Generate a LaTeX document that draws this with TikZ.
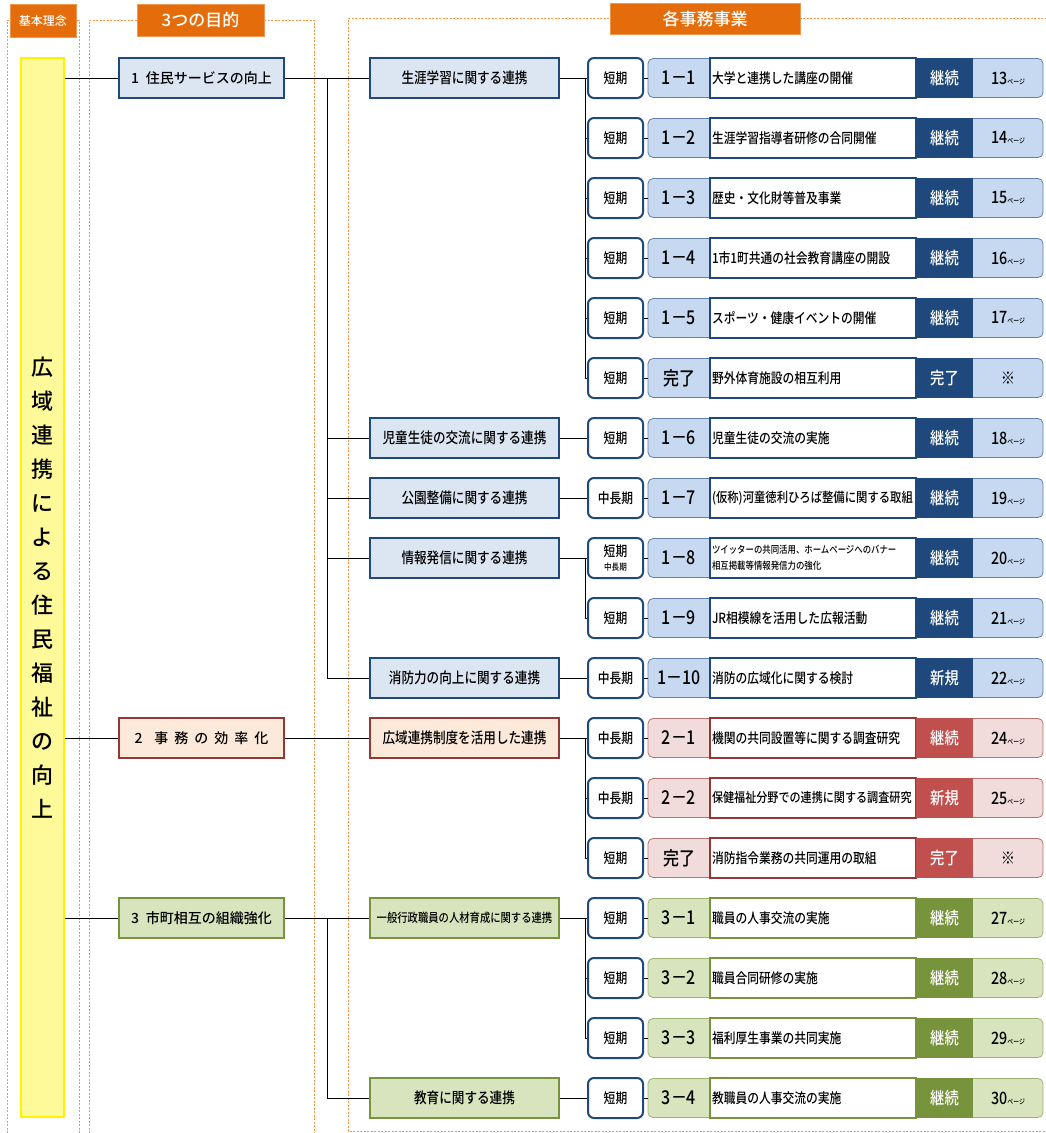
\documentclass[tikz,border=0pt]{standalone}
\usepackage{fontspec}
\setmainfont{Noto Sans CJK JP}[UprightFont=* Medium, FakeStretch=0.84]
\newfontfamily\jpw{Noto Sans CJK JP}[UprightFont=* Medium]

\definecolor{bdark}{HTML}{1F497D}
\definecolor{bstat}{HTML}{1F497D}
\definecolor{blight}{HTML}{C6D9F1}
\definecolor{bpale}{HTML}{DCE6F2}
\definecolor{rdark}{HTML}{953735}
\definecolor{rstat}{HTML}{C0504D}
\definecolor{rlight}{HTML}{F2DCDB}
\definecolor{rpale}{HTML}{FDE9D9}
\definecolor{gdark}{HTML}{77933C}
\definecolor{gstat}{HTML}{77933C}
\definecolor{glight}{HTML}{D7E4BD}
\definecolor{gpale}{HTML}{D7E4BD}
\definecolor{orng}{HTML}{E46C0A}
\definecolor{frame}{HTML}{F79646}

\tikzset{
  kakomi/.style={draw=frame, line width=1pt, dash pattern=on 2pt off 1.5pt},
  midashi/.style={fill=orng, draw=orng!70, text=white, inner sep=0pt},
  mokuteki/.style={draw=#1dark, fill=#1pale, line width=2.2pt, minimum width=165pt, minimum height=40pt, font=\jpw\fontsize{14}{14}\selectfont},
  renkei/.style={draw=#1dark, fill=#1pale, line width=2.2pt, minimum width=189pt, minimum height=40pt, font=\fontsize{15}{15}\selectfont},
  kikan/.style={draw=bdark, fill=white, line width=2pt, rounded corners=6pt, minimum width=55pt, minimum height=40pt, align=center, inner sep=1pt},
  waku/.style={draw=#1dark!70, fill=#1light, line width=0.8pt, rounded corners=5pt, minimum width=395pt, minimum height=39pt},
  naiyo/.style={draw=#1dark, fill=white, line width=2pt, text width=202pt, inner xsep=2pt, minimum height=40pt, align=left},
  jokyo/.style={fill=#1stat, text=white, minimum width=57pt, minimum height=40pt, font=\fontsize{17}{17}\selectfont},
}

% one row: name, y, period, number, text, status, page, colour
\newcommand{\jigyo}[8]{%
  \node[kikan] (k#1) at (615.5,#2) {#3};
  \node[waku=#8] (w#1) at (845.5,#2) {};
  \node (n#1) at (679,#2) {\fontsize{19}{19}\selectfont #4};
  \node[naiyo=#8] (d#1) at (813,#2) {#5};
  \node[jokyo=#8] (s#1) at (944.5,#2) {#6};
  \node (p#1) at (1008,#2) {#7};
  \draw[line width=0.8pt] (k#1) -- (w#1);
}
\newcommand{\peji}[1]{{\fontsize{17}{17}\selectfont #1}{\fontsize{7}{7}\selectfont ページ}}

\begin{document}
\begin{tikzpicture}[x=1pt, y=-1pt, font=\fontsize{14}{16}\selectfont]
\useasboundingbox (0,0) rectangle (1046,1133);

% frames
\draw[kakomi] (7,1140) -- (7,20) -- (79,20) -- (79,1140);
\draw[kakomi] (89,1140) -- (89,20) -- (314,20) -- (314,1140);
\draw[kakomi] (1050,18) -- (348,18) -- (348,1131) -- (1050,1131);
\node[midashi, minimum width=66pt, minimum height=33pt, font=\jpw\fontsize{12}{12}\selectfont] (kihonlabel) at (43,20.5) {基本理念};
\node[midashi, minimum width=127pt, minimum height=32pt, font=\jpw\fontsize{17}{17}\selectfont] (mokulabel) at (200.5,20) {3つの目的};
\node[midashi, minimum width=190pt, minimum height=31pt, font=\jpw\fontsize{17}{17}\selectfont] (jigyolabel) at (705,18.5) {各事務事業};

% basic idea
\node[draw=yellow, fill=yellow!40, line width=2.5pt, minimum width=43pt, minimum height=1059pt, inner sep=0pt, align=center, font=\jpw\fontsize{22}{34}\selectfont] (kihon) at (42.5,587.5) {広\\域\\連\\携\\に\\よ\\る\\住\\民\\福\\祉\\の\\向\\上};

% purposes
\node[mokuteki=b] (m1) at (201.5,78) {1\hspace{7pt}住民サービスの向上};
\node[mokuteki=r] (m2) at (201.5,738) {2\hspace{12pt}事\hspace{6pt}務\hspace{6pt}の\hspace{6pt}効\hspace{6pt}率\hspace{6pt}化};
\node[mokuteki=g] (m3) at (201.5,918) {3\hspace{7pt}市町相互の組織強化};

% fields
\node[renkei=b] (r1) at (464.5,78) {生涯学習に関する連携};
\node[renkei=b] (r2) at (464.5,438) {児童生徒の交流に関する連携};
\node[renkei=b] (r3) at (464.5,498) {公園整備に関する連携};
\node[renkei=b] (r4) at (464.5,558) {情報発信に関する連携};
\node[renkei=b] (r5) at (464.5,678) {消防力の向上に関する連携};
\node[renkei=r] (r6) at (464.5,738) {広域連携制度を活用した連携};
\node[renkei=g, font=\fontsize{12.3}{12.3}\selectfont, inner xsep=1pt] (r7) at (464.5,918) {一般行政職員の人材育成に関する連携};
\node[renkei=g] (r8) at (464.5,1098) {教育に関する連携};

% projects
\jigyo{0}{78}{短期}{1－1}{大学と連携した講座の開催}{継続}{\peji{13}}{b}
\jigyo{1}{138}{短期}{1－2}{生涯学習指導者研修の合同開催}{継続}{\peji{14}}{b}
\jigyo{2}{198}{短期}{1－3}{歴史・文化財等普及事業}{継続}{\peji{15}}{b}
\jigyo{3}{258}{短期}{1－4}{1市1町共通の社会教育講座の開設}{継続}{\peji{16}}{b}
\jigyo{4}{318}{短期}{1－5}{スポーツ・健康イベントの開催}{継続}{\peji{17}}{b}
\jigyo{5}{378}{短期}{完了}{野外体育施設の相互利用}{完了}{\fontsize{17}{17}\selectfont ※}{b}
\jigyo{6}{438}{短期}{1－6}{児童生徒の交流の実施}{継続}{\peji{18}}{b}
\jigyo{7}{498}{中長期}{1－7}{\fontsize{13.5}{16}\selectfont(仮称)河童徳利ひろば整備に関する取組}{継続}{\peji{19}}{b}
\jigyo{8}{558}{短期\\[-2pt]{\fontsize{9}{10}\selectfont 中長期}}{1－8}{\fontsize{10}{12}\selectfont ツイッターの共同活用、ホームページへのバナー\\相互掲載等情報発信力の強化}{継続}{\peji{20}}{b}
\jigyo{9}{618}{短期}{1－9}{JR相模線を活用した広報活動}{継続}{\peji{21}}{b}
\jigyo{10}{678}{中長期}{1－10}{消防の広域化に関する検討}{新規}{\peji{22}}{b}
\jigyo{11}{738}{中長期}{2－1}{機関の共同設置等に関する調査研究}{継続}{\peji{24}}{r}
\jigyo{12}{798}{中長期}{2－2}{\fontsize{13.2}{16}\selectfont 保健福祉分野での連携に関する調査研究}{新規}{\peji{25}}{r}
\jigyo{13}{858}{短期}{完了}{消防指令業務の共同運用の取組}{完了}{\fontsize{17}{17}\selectfont ※}{r}
\jigyo{14}{918}{短期}{3－1}{職員の人事交流の実施}{継続}{\peji{27}}{g}
\jigyo{15}{978}{短期}{3－2}{職員合同研修の実施}{継続}{\peji{28}}{g}
\jigyo{16}{1038}{短期}{3－3}{福利厚生事業の共同実施}{継続}{\peji{29}}{g}
\jigyo{17}{1098}{短期}{3－4}{教職員の人事交流の実施}{継続}{\peji{30}}{g}

% connectors
\coordinate (t1) at (327,0);
\coordinate (t2) at (585,0);
\begin{scope}[line width=1pt]
\draw (kihon.east |- m1.west) -- (m1);
\draw (kihon.east |- m2.west) -- (m2);
\draw (kihon.east |- m3.west) -- (m3);
\draw (m1) -- (r1);
\foreach \x in {r2,r3,r4,r5} \draw (t1 |- m1.east) |- (\x.west);
\draw (m2) -- (r6);
\draw (m3) -- (r7);
\draw (t1 |- m3.east) |- (r8.west);
\draw (r1) -- (k0);
\foreach \x in {1,...,5} \draw (t2 |- r1.east) |- (k\x.west);
\draw (r2) -- (k6);
\draw (r3) -- (k7);
\draw (r4) -- (k8);
\draw (t2 |- r4.east) |- (k9.west);
\draw (r5) -- (k10);
\draw (r6) -- (k11);
\foreach \x in {12,13} \draw (t2 |- r6.east) |- (k\x.west);
\draw (r7) -- (k14);
\foreach \x in {15,16} \draw (t2 |- r7.east) |- (k\x.west);
\draw (r8) -- (k17);
\end{scope}
\end{tikzpicture}
\end{document}
